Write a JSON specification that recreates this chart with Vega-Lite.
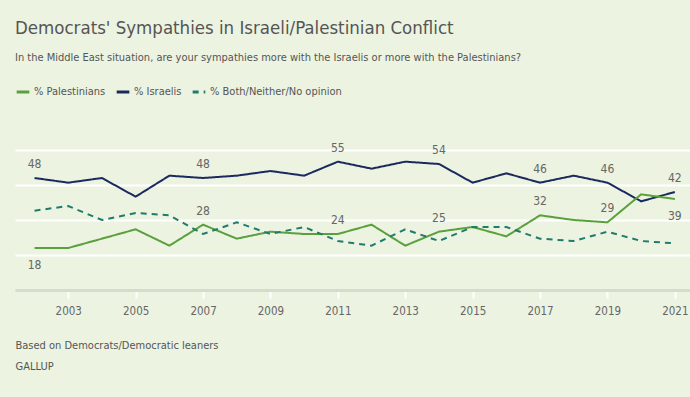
{
  "$schema": "https://vega.github.io/schema/vega-lite/v6.json",
  "autosize": "none",
  "width": 675,
  "height": 140,
  "padding": {"left": 15, "top": 150, "right": 0, "bottom": 107},
  "background": "#ecf3e1",
  "config": {
    "font": "Liberation Sans Narrow, DejaVu Sans Condensed, Roboto, sans-serif",
    "view": {"stroke": null}
  },
  "title": {
    "text": "Democrats' Sympathies in Israeli/Palestinian Conflict",
    "subtitle": "In the Middle East situation, are your sympathies more with the Israelis or more with the Palestinians?",
    "anchor": "start",
    "orient": "top",
    "fontSize": 18.5,
    "fontWeight": "normal",
    "color": "#555555",
    "subtitleFontSize": 11,
    "subtitleColor": "#555555",
    "subtitlePadding": 15,
    "offset": 21
  },
  "datasets": {
    "rows": [
      {"year": 2002, "series": "% Israelis", "value": 48},
      {"year": 2003, "series": "% Israelis", "value": 46},
      {"year": 2004, "series": "% Israelis", "value": 48},
      {"year": 2005, "series": "% Israelis", "value": 40},
      {"year": 2006, "series": "% Israelis", "value": 49},
      {"year": 2007, "series": "% Israelis", "value": 48},
      {"year": 2008, "series": "% Israelis", "value": 49},
      {"year": 2009, "series": "% Israelis", "value": 51},
      {"year": 2010, "series": "% Israelis", "value": 49},
      {"year": 2011, "series": "% Israelis", "value": 55},
      {"year": 2012, "series": "% Israelis", "value": 52},
      {"year": 2013, "series": "% Israelis", "value": 55},
      {"year": 2014, "series": "% Israelis", "value": 54},
      {"year": 2015, "series": "% Israelis", "value": 46},
      {"year": 2016, "series": "% Israelis", "value": 50},
      {"year": 2017, "series": "% Israelis", "value": 46},
      {"year": 2018, "series": "% Israelis", "value": 49},
      {"year": 2019, "series": "% Israelis", "value": 46},
      {"year": 2020, "series": "% Israelis", "value": 38},
      {"year": 2021, "series": "% Israelis", "value": 42},
      {"year": 2002, "series": "% Palestinians", "value": 18},
      {"year": 2003, "series": "% Palestinians", "value": 18},
      {"year": 2004, "series": "% Palestinians", "value": 22},
      {"year": 2005, "series": "% Palestinians", "value": 26},
      {"year": 2006, "series": "% Palestinians", "value": 19},
      {"year": 2007, "series": "% Palestinians", "value": 28},
      {"year": 2008, "series": "% Palestinians", "value": 22},
      {"year": 2009, "series": "% Palestinians", "value": 25},
      {"year": 2010, "series": "% Palestinians", "value": 24},
      {"year": 2011, "series": "% Palestinians", "value": 24},
      {"year": 2012, "series": "% Palestinians", "value": 28},
      {"year": 2013, "series": "% Palestinians", "value": 19},
      {"year": 2014, "series": "% Palestinians", "value": 25},
      {"year": 2015, "series": "% Palestinians", "value": 27},
      {"year": 2016, "series": "% Palestinians", "value": 23},
      {"year": 2017, "series": "% Palestinians", "value": 32},
      {"year": 2018, "series": "% Palestinians", "value": 30},
      {"year": 2019, "series": "% Palestinians", "value": 29},
      {"year": 2020, "series": "% Palestinians", "value": 41},
      {"year": 2021, "series": "% Palestinians", "value": 39},
      {"year": 2002, "series": "% Both/Neither/No opinion", "value": 34},
      {"year": 2003, "series": "% Both/Neither/No opinion", "value": 36},
      {"year": 2004, "series": "% Both/Neither/No opinion", "value": 30},
      {"year": 2005, "series": "% Both/Neither/No opinion", "value": 33},
      {"year": 2006, "series": "% Both/Neither/No opinion", "value": 32},
      {"year": 2007, "series": "% Both/Neither/No opinion", "value": 24},
      {"year": 2008, "series": "% Both/Neither/No opinion", "value": 29},
      {"year": 2009, "series": "% Both/Neither/No opinion", "value": 24},
      {"year": 2010, "series": "% Both/Neither/No opinion", "value": 27},
      {"year": 2011, "series": "% Both/Neither/No opinion", "value": 21},
      {"year": 2012, "series": "% Both/Neither/No opinion", "value": 19},
      {"year": 2013, "series": "% Both/Neither/No opinion", "value": 26},
      {"year": 2014, "series": "% Both/Neither/No opinion", "value": 21},
      {"year": 2015, "series": "% Both/Neither/No opinion", "value": 27},
      {"year": 2016, "series": "% Both/Neither/No opinion", "value": 27},
      {"year": 2017, "series": "% Both/Neither/No opinion", "value": 22},
      {"year": 2018, "series": "% Both/Neither/No opinion", "value": 21},
      {"year": 2019, "series": "% Both/Neither/No opinion", "value": 25},
      {"year": 2020, "series": "% Both/Neither/No opinion", "value": 21},
      {"year": 2021, "series": "% Both/Neither/No opinion", "value": 20}
    ]
  },
  "data": {"name": "rows"},
  "encoding": {
    "x": {
      "field": "year",
      "type": "quantitative",
      "scale": {"domain": [2001.42, 2021.45], "nice": false, "zero": false},
      "axis": {
        "values": [2003, 2005, 2007, 2009, 2011, 2013, 2015, 2017, 2019, 2021],
        "format": "d",
        "grid": false,
        "domainColor": "#d6dccd",
        "domainWidth": 3,
        "tickColor": "#ffffff",
        "tickWidth": 2,
        "tickSize": 8,
        "tickOffset": 0,
        "labelColor": "#666666",
        "labelFontSize": 11.5,
        "labelPadding": 7,
        "title": ["Based on Democrats/Democratic leaners", "GALLUP"],
        "titleAnchor": "start",
        "titleFontSize": 11,
        "titleFontWeight": "normal",
        "titleColor": "#555555",
        "titleLineHeight": 21,
        "titlePadding": 23,
        "titleBaseline": "top"
      }
    },
    "y": {
      "field": "value",
      "type": "quantitative",
      "scale": {"domain": [0, 60], "nice": false},
      "axis": {
        "values": [15, 30, 45, 60],
        "grid": true,
        "gridColor": "#ffffff",
        "gridWidth": 2,
        "domain": false,
        "ticks": false,
        "labels": false,
        "title": null
      }
    }
  },
  "layer": [
    {
      "mark": {"type": "line", "strokeWidth": 2},
      "encoding": {
        "color": {
          "field": "series",
          "type": "nominal",
          "scale": {
            "domain": ["% Palestinians", "% Israelis", "% Both/Neither/No opinion"],
            "range": ["#5aa03c", "#1b2a5e", "#1e7b6e"]
          },
          "legend": {
            "title": null,
            "orient": "none",
            "legendX": 0,
            "legendY": -66,
            "direction": "horizontal",
            "symbolType": "stroke",
            "symbolSize": 160,
            "symbolStrokeWidth": 3,
            "labelFontSize": 11,
            "labelColor": "#555555",
            "columnPadding": 4,
            "labelOffset": 3
          }
        },
        "strokeDash": {
          "field": "series",
          "type": "nominal",
          "scale": {
            "domain": ["% Palestinians", "% Israelis", "% Both/Neither/No opinion"],
            "range": [[1, 0], [1, 0], [6, 5]]
          },
          "legend": {
            "title": null,
            "orient": "none",
            "legendX": 0,
            "legendY": -66,
            "direction": "horizontal",
            "symbolType": "stroke",
            "symbolSize": 160,
            "symbolStrokeWidth": 3,
            "labelFontSize": 11,
            "labelColor": "#555555",
            "columnPadding": 4,
            "labelOffset": 3
          }
        }
      }
    },
    {
      "transform": [
        {"filter": "datum.series == '% Israelis' && indexof([2002,2007,2011,2014,2017,2019,2021], datum.year) >= 0"}
      ],
      "mark": {"type": "text", "dy": -14, "fontSize": 12, "color": "#666666"},
      "encoding": {"text": {"field": "value", "type": "quantitative"}}
    },
    {
      "transform": [
        {"filter": "datum.series == '% Palestinians' && indexof([2007,2011,2014,2017,2019], datum.year) >= 0"}
      ],
      "mark": {"type": "text", "dy": -14, "fontSize": 12, "color": "#666666"},
      "encoding": {"text": {"field": "value", "type": "quantitative"}}
    },
    {
      "transform": [
        {"filter": "datum.series == '% Palestinians' && indexof([2002,2021], datum.year) >= 0"}
      ],
      "mark": {"type": "text", "dy": 17, "fontSize": 12, "color": "#666666"},
      "encoding": {"text": {"field": "value", "type": "quantitative"}}
    }
  ]
}
